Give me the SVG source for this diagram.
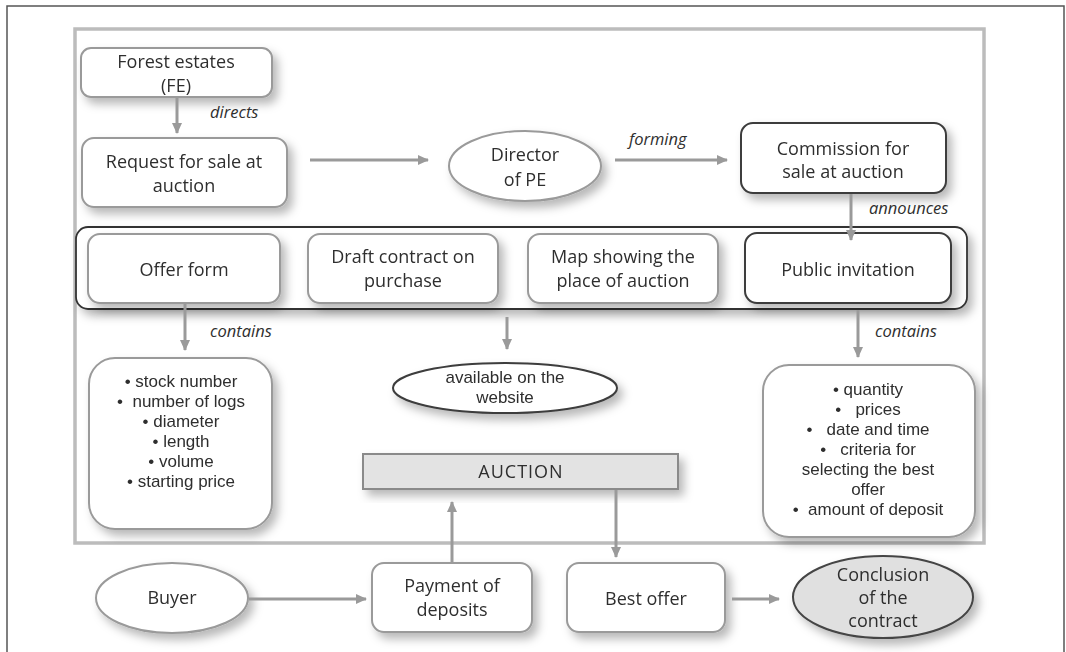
<svg xmlns="http://www.w3.org/2000/svg" width="1066" height="652" viewBox="0 0 1066 652">
<style>
.t{font-family:"Open Sans","Liberation Sans",sans-serif;font-size:18px;fill:#2e2e2e;text-anchor:middle}
.s{font-family:"Liberation Sans",Arial,sans-serif;font-size:17px;fill:#2e2e2e;text-anchor:middle;white-space:pre}
.i{font-family:"Open Sans","Liberation Sans",sans-serif;font-size:16.5px;font-style:italic;fill:#2e2e2e}
.lb{fill:#fff;stroke:#9a9a9a;stroke-width:2}
.db{fill:#fff;stroke:#3c3c3c;stroke-width:2}
.ar{fill:none;stroke:#9a9a9a;stroke-width:3}
</style>
<defs>
<filter id="sh" x="-20%" y="-30%" width="150%" height="170%">
<feDropShadow dx="5" dy="6" stdDeviation="5" flood-color="#000" flood-opacity="0.28"/>
</filter>
<marker id="ah" markerUnits="userSpaceOnUse" markerWidth="12" markerHeight="12" refX="10" refY="6" orient="auto">
<path d="M0,1 L11,6 L0,11 z" fill="#9a9a9a"/>
</marker>
</defs>
<rect width="1066" height="652" fill="#fff"/>
<path d="M7,652 V6 H1064 V652" fill="none" stroke="#555" stroke-width="1.5"/>
<rect x="75" y="29" width="909" height="514" fill="none" stroke="#bcbcbc" stroke-width="3.5"/>

<g id="forest-estates" filter="url(#sh)">
<rect class="lb" x="81" y="48" width="191" height="49" rx="10"/>
<text class="t" x="176" y="68">Forest estates</text>
<text class="t" x="176" y="92">(FE)</text>
</g>
<g id="request" filter="url(#sh)">
<rect class="lb" x="82" y="138" width="205" height="69" rx="12"/>
<text class="t" x="184" y="168">Request for sale at</text>
<text class="t" x="184" y="192">auction</text>
</g>
<g id="director" filter="url(#sh)">
<ellipse class="lb" cx="525" cy="166" rx="76" ry="35"/>
<text class="t" x="525" y="161">Director</text>
<text class="t" x="525" y="186">of PE</text>
</g>
<g id="commission" filter="url(#sh)">
<rect class="db" x="741" y="123" width="205" height="70" rx="12"/>
<text class="t" x="843" y="155">Commission for</text>
<text class="t" x="843" y="178">sale at auction</text>
</g>

<g id="documents" filter="url(#sh)">
<rect fill="#fff" stroke="#333" stroke-width="1.8" x="76" y="227" width="891" height="82" rx="12"/>
</g>
<g id="offer-form" filter="url(#sh)">
<rect class="lb" x="88" y="234" width="192" height="69" rx="12"/>
<text class="t" x="184" y="276">Offer form</text>
</g>
<g id="draft-contract" filter="url(#sh)">
<rect class="lb" x="308" y="234" width="190" height="69" rx="12"/>
<text class="t" x="403" y="263">Draft contract on</text>
<text class="t" x="403" y="287">purchase</text>
</g>
<g id="map" filter="url(#sh)">
<rect class="lb" x="528" y="234" width="190" height="69" rx="12"/>
<text class="t" x="623" y="263">Map showing the</text>
<text class="t" x="623" y="287">place of auction</text>
</g>
<g id="public-invitation" filter="url(#sh)">
<rect class="db" x="745" y="233" width="206" height="70" rx="12"/>
<text class="t" x="848" y="276">Public invitation</text>
</g>

<g id="offer-contents" filter="url(#sh)">
<rect class="lb" x="89" y="358" width="183" height="171" rx="26"/>
<text class="s" x="181" y="387">• stock number</text>
<text class="s" x="181" y="407">•  number of logs</text>
<text class="s" x="181" y="427">• diameter</text>
<text class="s" x="181" y="447">• length</text>
<text class="s" x="181" y="467">• volume</text>
<text class="s" x="181" y="487">• starting price</text>
</g>
<g id="website" filter="url(#sh)">
<ellipse class="db" cx="505" cy="388" rx="112" ry="25"/>
<text class="s" x="505" y="383">available on the</text>
<text class="s" x="505" y="403">website</text>
</g>
<g id="invitation-contents" filter="url(#sh)">
<rect class="lb" x="763" y="365" width="212" height="172" rx="26"/>
<text class="s" x="868" y="395">• quantity</text>
<text class="s" x="868" y="415">•   prices</text>
<text class="s" x="868" y="435">•   date and time</text>
<text class="s" x="868" y="455">•   criteria for</text>
<text class="s" x="868" y="475">selecting the best</text>
<text class="s" x="868" y="495">offer</text>
<text class="s" x="868" y="515">•  amount of deposit</text>
</g>
<g id="auction" filter="url(#sh)">
<rect x="363" y="454" width="315" height="35" fill="#e3e3e3" stroke="#8a8a8a" stroke-width="2"/>
<text class="t" x="521" y="478" letter-spacing="1">AUCTION</text>
</g>

<g id="buyer" filter="url(#sh)">
<ellipse class="lb" cx="172" cy="598" rx="76" ry="35"/>
<text class="t" x="172" y="604">Buyer</text>
</g>
<g id="payment" filter="url(#sh)">
<rect class="lb" x="372" y="563" width="160" height="69" rx="12"/>
<text class="t" x="452" y="592">Payment of</text>
<text class="t" x="452" y="616">deposits</text>
</g>
<g id="best-offer" filter="url(#sh)">
<rect class="lb" x="567" y="563" width="158" height="69" rx="12"/>
<text class="t" x="646" y="605">Best offer</text>
</g>
<g id="conclusion" filter="url(#sh)">
<ellipse cx="883" cy="597" rx="90" ry="41" fill="#e0e0e0" stroke="#444" stroke-width="2"/>
<text class="t" x="883" y="581">Conclusion</text>
<text class="t" x="883" y="604">of the</text>
<text class="t" x="883" y="627">contract</text>
</g>

<g id="connectors">
<line class="ar" x1="177" y1="98" x2="177" y2="133" marker-end="url(#ah)"/>
<line class="ar" x1="310" y1="160" x2="428" y2="160" marker-end="url(#ah)"/>
<line class="ar" x1="615" y1="160" x2="727" y2="160" marker-end="url(#ah)"/>
<line class="ar" x1="851" y1="194" x2="851" y2="240" marker-end="url(#ah)"/>
<line class="ar" x1="185" y1="304" x2="185" y2="350" marker-end="url(#ah)"/>
<line class="ar" x1="507" y1="317" x2="507" y2="349" marker-end="url(#ah)"/>
<line class="ar" x1="858" y1="310" x2="858" y2="357" marker-end="url(#ah)"/>
<line class="ar" x1="452" y1="562" x2="452" y2="502" marker-end="url(#ah)"/>
<line class="ar" x1="616" y1="490" x2="616" y2="557" marker-end="url(#ah)"/>
<line class="ar" x1="249" y1="599" x2="366" y2="599" marker-end="url(#ah)"/>
<line class="ar" x1="732" y1="599" x2="779" y2="599" marker-end="url(#ah)"/>
<text class="i" x="210" y="118">directs</text>
<text class="i" x="629" y="145">forming</text>
<text class="i" x="869" y="214">announces</text>
<text class="i" x="210" y="337">contains</text>
<text class="i" x="875" y="337">contains</text>
</g>
</svg>
